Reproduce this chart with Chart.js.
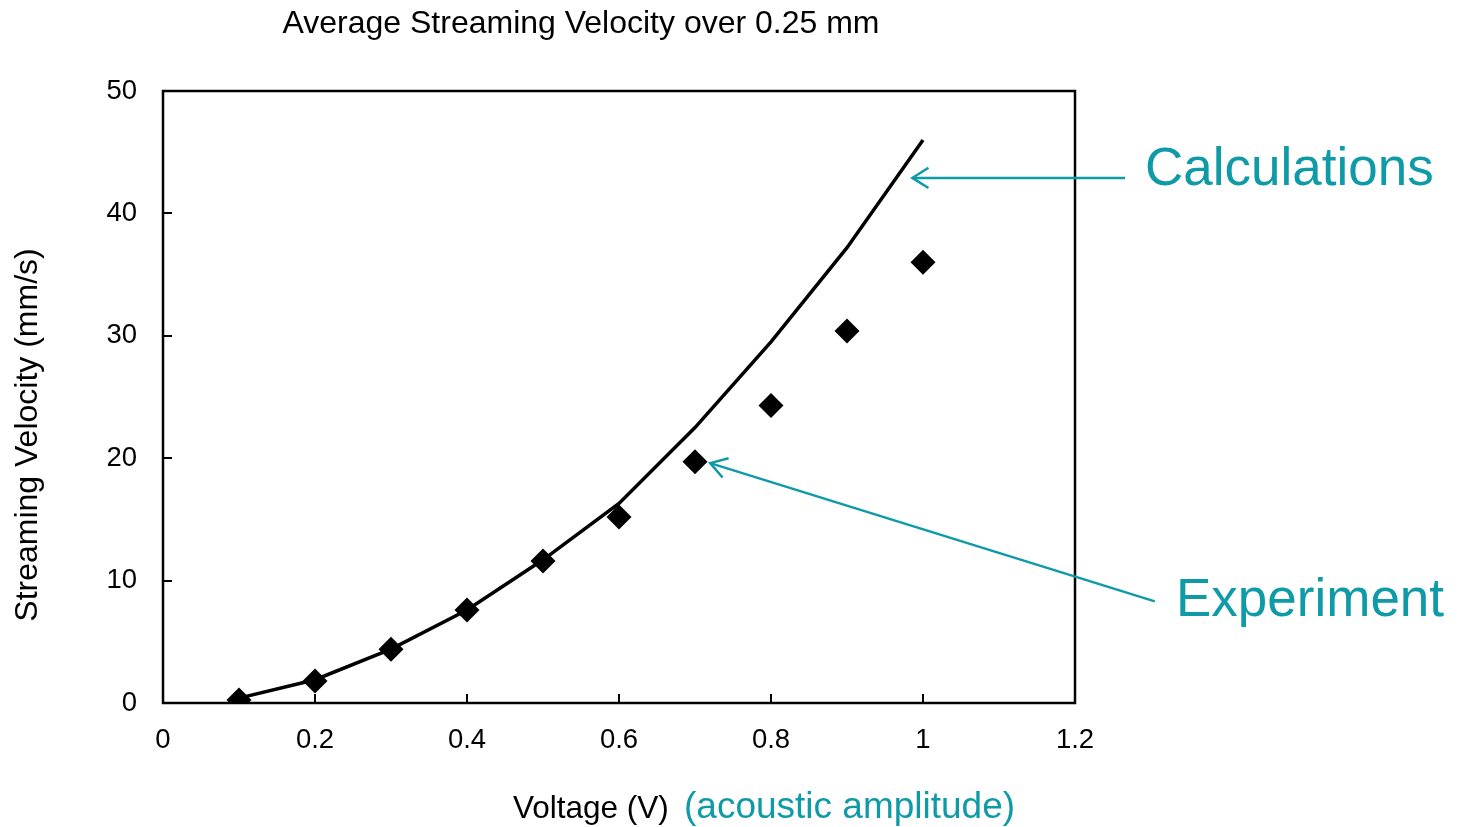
<!DOCTYPE html>
<html>
<head>
<meta charset="utf-8">
<script src="https://cdn.jsdelivr.net/npm/chart.js@4.4.0/dist/chart.umd.min.js"></script>
<style>
  body { margin: 0; background: #fff; }
  canvas { display: block; }
</style>
</head>
<body>
<canvas id="chart" width="1459" height="827"></canvas>
<script>
  // voltage steps
  const voltage = [0.1, 0.2, 0.3, 0.4, 0.5, 0.6, 0.7, 0.8, 0.9, 1.0];
  // calculated streaming velocity (mm/s)
  const calculated = [0.4, 1.9, 4.4, 7.6, 11.7, 16.3, 22.5, 29.5, 37.2, 46.0];
  // measured streaming velocity (mm/s)
  const measured = [0.25, 1.8, 4.4, 7.6, 11.6, 15.2, 19.7, 24.3, 30.4, 36.0];

  const xTickLabels = ['0', '0.2', '0.4', '0.6', '0.8', '1', '1.2'];
  const yTickLabels = ['0', '10', '20', '30', '40', '50'];

  const teal = '#0E9AA7';
  const font = '"Liberation Sans", Arial, sans-serif';

  // arrow anchors in data units: [tailX, tailY, tipX, tipY]
  const calcArrow = [1.266, 42.9, 0.986, 42.9];
  const expArrow = [1.305, 8.3, 0.72, 19.6];

  const toPts = (ys) => voltage.map((v, i) => ({ x: v, y: ys[i] }));

  function arrow(ctx, x1, y1, x2, y2) {
    const ang = Math.atan2(y1 - y2, x1 - x2);
    ctx.beginPath();
    ctx.moveTo(x1, y1);
    ctx.lineTo(x2, y2);
    ctx.stroke();
    ctx.beginPath();
    const len = 19, spread = 0.56;
    ctx.moveTo(x2 + len * Math.cos(ang + spread), y2 + len * Math.sin(ang + spread));
    ctx.lineTo(x2, y2);
    ctx.lineTo(x2 + len * Math.cos(ang - spread), y2 + len * Math.sin(ang - spread));
    ctx.stroke();
  }

  const decorations = {
    id: 'decorations',
    afterDraw(chart) {
      const { ctx, chartArea: a, scales: { x, y } } = chart;
      ctx.save();

      // inward tick marks
      ctx.strokeStyle = '#000';
      ctx.lineWidth = 2;
      x.ticks.forEach(t => {
        const px = Math.round(x.getPixelForValue(t.value));
        ctx.beginPath();
        ctx.moveTo(px, a.bottom);
        ctx.lineTo(px, a.bottom - 9);
        ctx.stroke();
      });
      y.ticks.forEach(t => {
        const py = Math.round(y.getPixelForValue(t.value));
        ctx.beginPath();
        ctx.moveTo(a.left, py);
        ctx.lineTo(a.left + 9, py);
        ctx.stroke();
      });

      // frame
      ctx.lineWidth = 2.5;
      ctx.strokeRect(a.left, a.top, a.right - a.left, a.bottom - a.top);

      // title
      ctx.fillStyle = '#000';
      ctx.textBaseline = 'middle';
      ctx.textAlign = 'center';
      ctx.font = '32px ' + font;
      ctx.fillText('Average Streaming Velocity over 0.25 mm', 581, 24);

      // y axis title
      ctx.save();
      ctx.translate(28, 435);
      ctx.rotate(-Math.PI / 2);
      ctx.font = '32px ' + font;
      ctx.fillText('Streaming Velocity (mm/s)', 0, 0);
      ctx.restore();

      // x axis title, two colours
      ctx.textAlign = 'left';
      ctx.font = '31.5px ' + font;
      ctx.fillText('Voltage (V)', 513, 809);
      ctx.fillStyle = teal;
      ctx.font = '37px ' + font;
      ctx.fillText('(acoustic amplitude)', 684, 808);

      // annotations
      ctx.strokeStyle = teal;
      ctx.lineWidth = 2.5;
      arrow(ctx, x.getPixelForValue(calcArrow[0]), y.getPixelForValue(calcArrow[1]),
        x.getPixelForValue(calcArrow[2]), y.getPixelForValue(calcArrow[3]));
      arrow(ctx, x.getPixelForValue(expArrow[0]), y.getPixelForValue(expArrow[1]),
        x.getPixelForValue(expArrow[2]), y.getPixelForValue(expArrow[3]));
      ctx.font = '53px ' + font;
      ctx.fillText('Calculations', 1145, 170);
      ctx.fillText('Experiment', 1176, 601);

      ctx.restore();
    }
  };

  new Chart(document.getElementById('chart'), {
    type: 'line',
    data: {
      datasets: [
        {
          label: 'Calculations',
          data: toPts(calculated),
          borderColor: '#000',
          borderWidth: 3.5,
          pointRadius: 0,
          tension: 0
        },
        {
          label: 'Experiment',
          data: toPts(measured),
          showLine: false,
          pointStyle: 'rectRot',
          pointRadius: 12.5,
          pointBackgroundColor: '#000',
          pointBorderColor: '#000',
          pointBorderWidth: 0
        }
      ]
    },
    options: {
      responsive: false,
      animation: false,
      layout: { padding: { top: 91, right: 384, bottom: 0, left: 0 } },
      plugins: {
        legend: { display: false },
        title: { display: false },
        tooltip: { enabled: false }
      },
      scales: {
        x: {
          type: 'linear',
          min: 0,
          max: 1.2,
          afterFit: s => { s.height = 124; },
          grid: { display: false, drawTicks: false },
          border: { display: false },
          ticks: {
            stepSize: 0.2,
            padding: 21,
            color: '#000',
            font: { size: 27.5, family: font },
            callback: (v, i) => xTickLabels[i]
          }
        },
        y: {
          min: 0,
          max: 50,
          afterFit: s => { s.width = 163; },
          grid: { display: false, drawTicks: false },
          border: { display: false },
          ticks: {
            stepSize: 10,
            padding: 26,
            color: '#000',
            font: { size: 27.5, family: font },
            callback: (v, i) => yTickLabels[i]
          }
        }
      }
    },
    plugins: [decorations]
  });
</script>
</body>
</html>
